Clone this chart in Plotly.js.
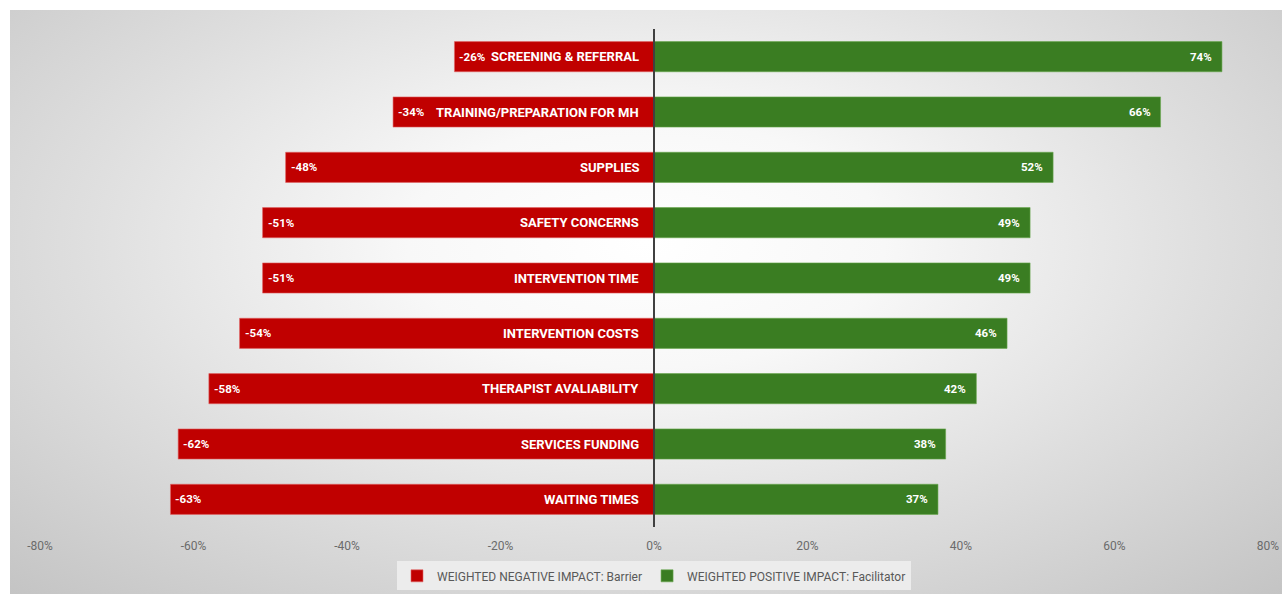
<!DOCTYPE html>
<html>
<head>
<meta charset="utf-8">
<script src="https://cdn.plot.ly/plotly-3.0.1.min.js"></script>
<style>
  html, body { margin: 0; padding: 0; background: #ffffff; width: 1282px; height: 594px; overflow: hidden; }
  #bg { position: absolute; left: 10px; top: 10px; width: 1272px; height: 584px;
        background: radial-gradient(ellipse 75% 85% at 50% 40%, #ffffff 0%, #f8f8f8 25%, #dedede 60%, #c2c2c2 100%); }
  #chart { position: absolute; left: 0; top: 0; width: 1282px; height: 594px; }
</style>
</head>
<body>
<div id="bg"></div>
<div id="chart"></div>
<script>
const categories = [
  "SCREENING & REFERRAL",
  "TRAINING/PREPARATION FOR MH",
  "SUPPLIES",
  "SAFETY CONCERNS",
  "INTERVENTION TIME",
  "INTERVENTION COSTS",
  "THERAPIST AVALIABILITY",
  "SERVICES FUNDING",
  "WAITING TIMES"
];
const negativeValues = [-0.26, -0.34, -0.48, -0.51, -0.51, -0.54, -0.58, -0.62, -0.63];
const positiveValues = [0.74, 0.66, 0.52, 0.49, 0.49, 0.46, 0.42, 0.38, 0.37];
const seriesNames = ["WEIGHTED NEGATIVE IMPACT: Barrier", "WEIGHTED POSITIVE IMPACT: Facilitator"];
const xTickVals = [-0.8, -0.6, -0.4, -0.2, 0, 0.2, 0.4, 0.6, 0.8];
const xTickLabels = ["-80%", "-60%", "-40%", "-20%", "0%", "20%", "40%", "60%", "80%"];

const RED = "#C00000";
const GREEN = "#3A7D22";
const FONT = "Roboto, 'Liberation Sans', sans-serif";

const fmt = v => Math.round(v * 100) + "%";

const traces = [
  {
    type: "bar", orientation: "h", name: seriesNames[0],
    y: categories, x: negativeValues,
    marker: { color: RED, line: { color: "#e06666", width: 0.6 } },
    hoverinfo: "skip"
  },
  {
    type: "bar", orientation: "h", name: seriesNames[1],
    y: categories, x: positiveValues,
    marker: { color: GREEN, line: { color: "#6aa84f", width: 0.6 } },
    hoverinfo: "skip"
  }
];

const annotations = [];
categories.forEach((c, i) => {
  annotations.push({
    x: 0, y: c, xref: "x", yref: "y", text: c, showarrow: false,
    xanchor: "right", xshift: -13,
    font: { family: FONT, size: 13, color: "#ffffff", weight: "bold" }
  });
  annotations.push({
    x: negativeValues[i], y: c, xref: "x", yref: "y", text: fmt(negativeValues[i]), showarrow: false,
    xanchor: "left", xshift: 3,
    font: { family: FONT, size: 11.5, color: "#ffffff", weight: "bold" }
  });
  annotations.push({
    x: positiveValues[i], y: c, xref: "x", yref: "y", text: fmt(positiveValues[i]), showarrow: false,
    xanchor: "right", xshift: -8,
    font: { family: FONT, size: 11.5, color: "#ffffff", weight: "bold" }
  });
});

const layout = {
  width: 1282, height: 594,
  margin: { l: 40, r: 14, t: 29, b: 67 },
  paper_bgcolor: "rgba(0,0,0,0)",
  plot_bgcolor: "rgba(0,0,0,0)",
  barmode: "relative",
  bargap: 0.455,
  showlegend: true,
  font: { family: FONT, color: "#595959" },
  xaxis: {
    range: [-0.8, 0.8],
    tickvals: xTickVals,
    ticktext: xTickLabels,
    showgrid: false,
    zeroline: false,
    showline: false,
    ticks: "",
    tickfont: { size: 12, color: "#6b6b6b" },
    ticklabelstandoff: 10,
    automargin: false,
    fixedrange: true
  },
  yaxis: {
    categoryorder: "array",
    categoryarray: categories,
    autorange: "reversed",
    showticklabels: false,
    showgrid: false,
    zeroline: false,
    ticks: "",
    automargin: false,
    fixedrange: true
  },
  shapes: [{
    type: "line", xref: "x", yref: "paper", x0: 0, x1: 0, y0: 0, y1: 1,
    line: { color: "#404040", width: 2 }, layer: "above"
  }],
  annotations: annotations,
  legend: {
    orientation: "h",
    xref: "paper", x: 0.5, xanchor: "center",
    yref: "container", y: 0.055, yanchor: "top",
    bgcolor: "#ececec",
    font: { size: 12, color: "#595959", family: FONT },
    itemwidth: 30,
    traceorder: "normal"
  }
};

Plotly.newPlot("chart", traces, layout, { displayModeBar: false, staticPlot: true });
</script>
</body>
</html>
